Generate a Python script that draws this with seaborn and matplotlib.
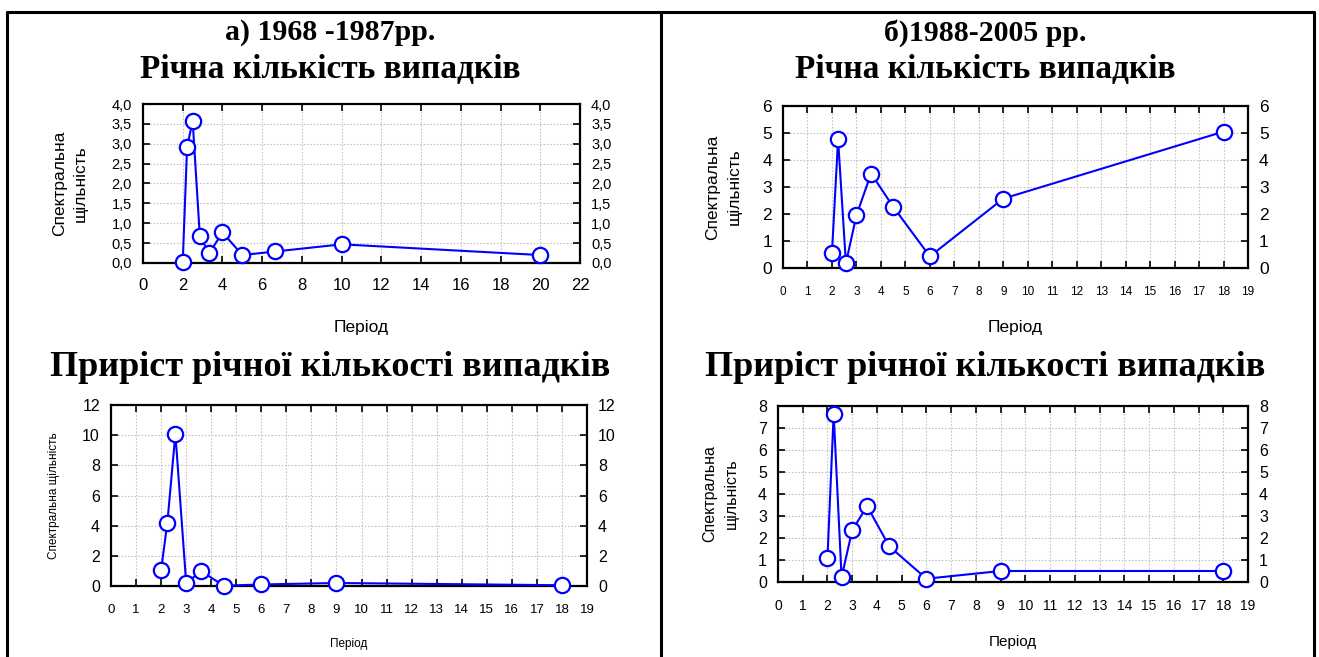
import matplotlib
matplotlib.use("Agg")
import matplotlib.pyplot as plt
import seaborn as sns
import pandas as pd
from matplotlib.lines import Line2D
from matplotlib.ticker import FuncFormatter, MultipleLocator

sns.set_theme(style="white")
plt.rcParams['font.family'] = ['Liberation Sans', 'DejaVu Sans']
plt.rcParams.update({"text.color": "black", "axes.labelcolor": "black",
                     "xtick.color": "black", "ytick.color": "black"})

# ---- data ----
period_a_top = [2.0, 2.22, 2.5, 2.86, 3.33, 4.0, 5.0, 6.67, 10.0, 20.0]
dens_a_top = [0.02, 2.92, 3.57, 0.68, 0.24, 0.77, 0.20, 0.29, 0.47, 0.20]

period_b_top = [2.0, 2.25, 2.57, 3.0, 3.6, 4.5, 6.0, 9.0, 18.0]
dens_b_top = [0.55, 4.77, 0.18, 1.95, 3.50, 2.27, 0.43, 2.57, 5.05]

period_a_bot = [2.0, 2.25, 2.57, 3.0, 3.6, 4.5, 6.0, 9.0, 18.0]
dens_a_bot = [1.05, 4.20, 10.10, 0.20, 0.98, 0.02, 0.10, 0.20, 0.05]

period_b_bot = [2.0, 2.25, 2.57, 3.0, 3.6, 4.5, 6.0, 9.0, 18.0]
dens_b_bot = [1.10, 7.65, 0.22, 2.35, 3.45, 1.62, 0.15, 0.50, 0.50]

title_a = "а) 1968 -1987рр."
title_b = "б)1988-2005 рр."
title_top = "Річна кількість випадків"
title_bot = "Приріст річної кількості випадків"
ylabel_two = "Спектральна\nщільність"
ylabel_one = "Спектральна щільність"
xlabel = "Період"

W, H = 1319, 657
fig = plt.figure(figsize=(W / 100, H / 100), dpi=100)
fig.patch.set_facecolor("white")


def px_axes(l, t, r, b):
    return fig.add_axes([l / W, 1 - b / H, (r - l) / W, (b - t) / H])


def style(ax, x, y, xlim, xstep, ylim, ystep, xfs, yfs, xpad, comma=False):
    df = pd.DataFrame({"x": x, "y": y})
    sns.lineplot(data=df, x="x", y="y", ax=ax, color="#0000ff", lw=1.5,
                 marker="o", markersize=11, markerfacecolor="white",
                 markeredgecolor="#0000ff", markeredgewidth=1.6, clip_on=False,
                 zorder=5)
    ax.set_xlim(*xlim)
    ax.set_ylim(*ylim)
    ax.xaxis.set_major_locator(MultipleLocator(xstep))
    ax.yaxis.set_major_locator(MultipleLocator(ystep))
    if comma:
        ax.yaxis.set_major_formatter(FuncFormatter(lambda v, p: f"{v:.1f}".replace(".", ",")))
    ax.grid(True, color="#c4c4c4", linestyle=(0, (1.5, 1.5)), linewidth=0.8)
    ax.set_facecolor("white")
    for s in ax.spines.values():
        s.set_visible(True)
        s.set_color("black")
        s.set_linewidth(1.6)
    ax.tick_params(axis="both", direction="in", length=5, width=1.2, color="black",
                   labelcolor="black",
                   top=True, right=True, bottom=True, left=True,
                   labelright=True, labelleft=True)
    ax.tick_params(axis="x", labelsize=xfs, pad=xpad)
    ax.tick_params(axis="y", labelsize=yfs, pad=8)
    ax.set_axisbelow(True)


# top-left
ax1 = px_axes(143, 104, 580, 263)
style(ax1, period_a_top, dens_a_top, (0, 22), 2, (0, 4), 0.5, 12, 10.5, 11, comma=True)
ax1.set_xlabel(xlabel, fontsize=12.5, labelpad=19)
ax1.set_ylabel(ylabel_two, fontsize=12.5, labelpad=17, linespacing=1.5)

# top-right
ax2 = px_axes(783, 106, 1248, 268)
style(ax2, period_b_top, dens_b_top, (0, 19), 1, (0, 6), 1, 8.5, 12.5, 13)
ax2.set_xlabel(xlabel, fontsize=12.5, labelpad=16)
ax2.set_ylabel(ylabel_two, fontsize=12.5, labelpad=15, linespacing=1.5)

# bottom-left
ax3 = px_axes(111, 405, 587, 586)
style(ax3, period_a_bot, dens_a_bot, (0, 19), 1, (0, 12), 2, 9.5, 11.5, 13)
ax3.set_xlabel(xlabel, fontsize=8.5, labelpad=16)
ax3.set_ylabel(ylabel_one, fontsize=8.5, labelpad=16)

# bottom-right
ax4 = px_axes(778, 406, 1248, 582)
style(ax4, period_b_bot, dens_b_bot, (0, 19), 1, (0, 8), 1, 10, 11.5, 12)
ax4.set_xlabel(xlabel, fontsize=11, labelpad=16)
ax4.set_ylabel(ylabel_two, fontsize=11.5, labelpad=14, linespacing=1.5)

# titles
tfont = dict(family=["Liberation Serif", "DejaVu Serif"], weight="bold",
             ha="center", va="center", color="black")
fig.text(330 / W, 1 - 33 / H, title_a, fontsize=21.5, **tfont)
fig.text(330 / W, 1 - 70 / H, title_top, fontsize=24, **tfont)
fig.text(985 / W, 1 - 33 / H, title_b, fontsize=21.5, **tfont)
fig.text(985 / W, 1 - 70 / H, title_top, fontsize=24, **tfont)
fig.text(330 / W, 1 - 368 / H, title_bot, fontsize=26, **tfont)
fig.text(985 / W, 1 - 368 / H, title_bot, fontsize=26, **tfont)

# frame
lw = 2.2
def fline(x0, y0, x1, y1):
    fig.add_artist(Line2D([x0 / W, x1 / W], [1 - y0 / H, 1 - y1 / H], color="black",
                          lw=lw, transform=fig.transFigure))

fline(7, 12, 1314, 12)
fline(7, 12, 7, 657)
fline(661, 12, 661, 657)
fline(1314, 12, 1314, 657)

fig.savefig("out.png", dpi=100, facecolor="white")
